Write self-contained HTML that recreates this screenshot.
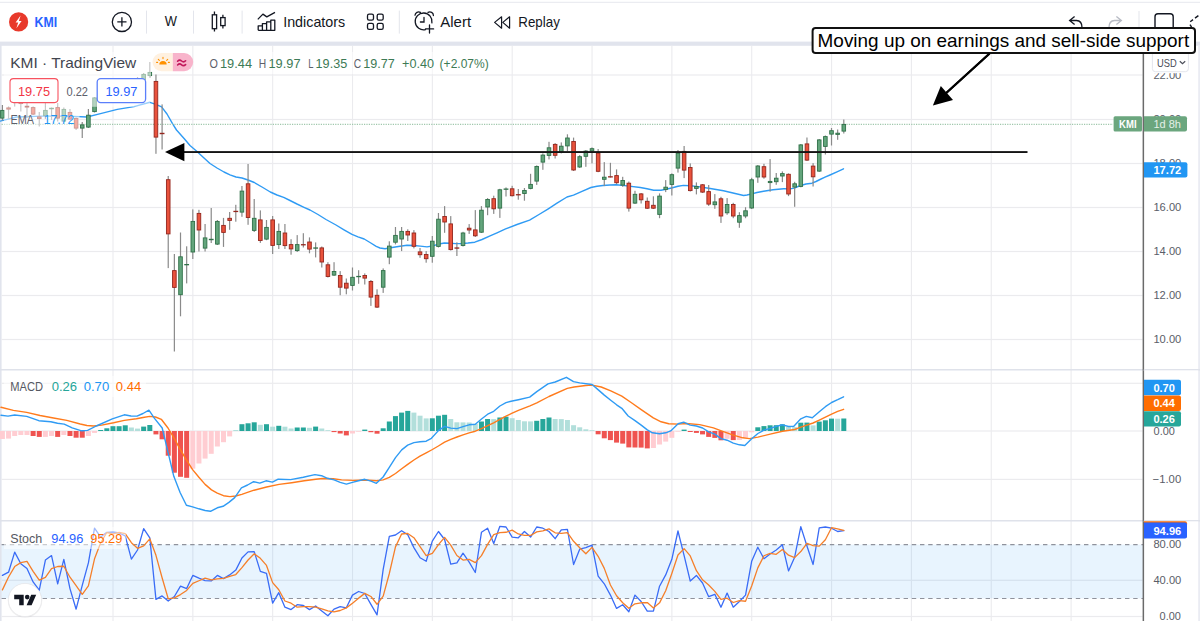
<!DOCTYPE html>
<html><head><meta charset="utf-8"><title>KMI chart</title>
<style>html,body{margin:0;padding:0;background:#fff;overflow:hidden}svg{display:block}text{font-family:"Liberation Sans",sans-serif}</style></head>
<body><svg width="1200" height="621" viewBox="0 0 1200 621">
<rect x="0" y="0" width="1200" height="621" fill="#fff"/>
<rect x="0" y="1.8" width="1200" height="1" fill="#e6e8ee"/>
<rect x="0" y="41.6" width="1200" height="4.2" fill="#e1e4ed"/>
<rect x="0" y="45" width="1.6" height="576" fill="#e1e4ed"/>
<rect x="1197.4" y="45" width="2.6" height="576" fill="#eaecf3"/>
<rect x="112.45" y="46" width="1.1" height="575" fill="#ebebee"/>
<rect x="192.29" y="46" width="1.1" height="575" fill="#ebebee"/>
<rect x="272.13" y="46" width="1.1" height="575" fill="#ebebee"/>
<rect x="351.97" y="46" width="1.1" height="575" fill="#ebebee"/>
<rect x="431.81" y="46" width="1.1" height="575" fill="#ebebee"/>
<rect x="511.65" y="46" width="1.1" height="575" fill="#ebebee"/>
<rect x="591.49" y="46" width="1.1" height="575" fill="#ebebee"/>
<rect x="671.33" y="46" width="1.1" height="575" fill="#ebebee"/>
<rect x="751.17" y="46" width="1.1" height="575" fill="#ebebee"/>
<rect x="831.01" y="46" width="1.1" height="575" fill="#ebebee"/>
<rect x="910.85" y="46" width="1.1" height="575" fill="#ebebee"/>
<rect x="990.69" y="46" width="1.1" height="575" fill="#ebebee"/>
<rect x="1070.53" y="46" width="1.1" height="575" fill="#ebebee"/>
<rect x="1.6" y="74.4" width="1141" height="1.2" fill="#ebebee"/>
<rect x="1.6" y="118.9" width="1141" height="1.2" fill="#ebebee"/>
<rect x="1.6" y="162.9" width="1141" height="1.2" fill="#ebebee"/>
<rect x="1.6" y="206.9" width="1141" height="1.2" fill="#ebebee"/>
<rect x="1.6" y="250.9" width="1141" height="1.2" fill="#ebebee"/>
<rect x="1.6" y="294.9" width="1141" height="1.2" fill="#ebebee"/>
<rect x="1.6" y="338.9" width="1141" height="1.2" fill="#ebebee"/>
<rect x="1.6" y="382.7" width="1141" height="1.2" fill="#ebebee"/>
<rect x="1.6" y="430.4" width="1141" height="1.2" fill="#ebebee"/>
<rect x="1.6" y="478.8" width="1141" height="1.2" fill="#ebebee"/>
<rect x="1.6" y="579.7" width="1141" height="1.2" fill="#ebebee"/>
<rect x="1.6" y="615.9" width="1141" height="1.2" fill="#ebebee"/>
<rect x="0" y="369" width="1200" height="1.3" fill="#dfe2ea"/>
<rect x="0" y="520" width="1200" height="1.3" fill="#dfe2ea"/>
<rect x="1.6" y="544.6" width="1141.5" height="53.8" fill="#2196f3" fill-opacity="0.1"/>
<path d="M1.6 544.6H1143 M1.6 598.4H1143" stroke="#8f929c" stroke-width="1.05" stroke-dasharray="4.4 3.8" fill="none"/>
<path d="M0 121.1 L16.7 117 L41.9 116.1 L67 116.1 L87 117 L100.5 113.6 L117.3 109.4 L134 106.6 L149.9 102.3 L155.8 104.4 L161.6 106.9 L167 114 L172.5 123.7 L176.5 130 L184.3 138.7 L190 145.5 L197 151.5 L204 158 L210 163.5 L217 168 L224 172 L230 174.8 L236 177 L242 178 L248 180 L254.3 182.5 L262 187 L270.3 192 L277 195 L283.7 197.4 L290 200.5 L297 204 L304 207.3 L310 210 L318 214.5 L326 219.5 L336 225 L344 229.8 L352 234.4 L358 236.8 L364.2 239 L370 242.5 L376.2 246.4 L380 248 L385 248.8 L392.2 247.5 L400 246.2 L407 245.3 L414 245.5 L420.3 246.1 L427 246.9 L433.7 245.7 L439 244 L444.4 243 L450 243.3 L456 243.6 L462 243.5 L468 243 L474.8 242.2 L482 239.5 L489.5 236.2 L497 232.8 L505.6 228.8 L517 224.5 L529.6 220.1 L539 214.5 L548.3 208.8 L557 203.2 L567 197 L573.5 195.2 L582 191.3 L590.9 187.5 L597 186.2 L602.9 185.5 L610 185 L616.3 184.8 L627 185.9 L640.3 187.5 L647 188.8 L653.7 190.3 L661 190.2 L666 189.3 L672.4 187.8 L678 186.3 L683.4 185.4 L690 185.8 L696.8 186.4 L710.2 188.5 L723.5 190.8 L733 193 L743.6 195.5 L747 195 L751.6 193.9 L757 192.5 L763.6 191.2 L773 189.8 L783.7 188.8 L790 188.9 L794.4 188.1 L798 186.5 L802.4 185 L806 184 L812 183.2 L816 181.5 L820 179.5 L825 177.2 L830 175 L837 171.8 L843.5 168.8" fill="none" stroke="#2f9bf4" stroke-width="1.4" stroke-linejoin="round" stroke-linecap="round" />
<path d="M1.6 124.3H1113" stroke="#9fc7ac" stroke-width="1.2" stroke-dasharray="1.2 1.2" fill="none"/>
<rect x="1.81" y="105" width="1.2" height="15.5" fill="#8a8a8a"/>
<rect x="0.61" y="110.4" width="3.6" height="7.7" fill="#63a57c" stroke="#2f7048" stroke-width="0.9"/>
<rect x="7.95" y="106.5" width="1.2" height="12.5" fill="#8a8a8a"/>
<rect x="6.75" y="107.9" width="3.6" height="1.2" fill="#e9523c" stroke="#94261d" stroke-width="0.9"/>
<rect x="14.09" y="92" width="1.2" height="14.5" fill="#8a8a8a"/>
<rect x="12.89" y="96.4" width="3.6" height="4.2" fill="#e9523c" stroke="#94261d" stroke-width="0.9"/>
<rect x="20.23" y="99" width="1.2" height="12.5" fill="#8a8a8a"/>
<rect x="19.03" y="101.4" width="3.6" height="2.2" fill="#e9523c" stroke="#94261d" stroke-width="0.9"/>
<rect x="26.38" y="103" width="1.2" height="15" fill="#8a8a8a"/>
<rect x="25.18" y="106.2" width="3.6" height="0.9" fill="#e9523c" stroke="#94261d" stroke-width="0.9"/>
<rect x="32.52" y="106.5" width="1.2" height="8.5" fill="#8a8a8a"/>
<rect x="31.32" y="107.6" width="3.6" height="6.5" fill="#e9523c" stroke="#94261d" stroke-width="0.9"/>
<rect x="38.66" y="112" width="1.2" height="14.5" fill="#8a8a8a"/>
<rect x="37.46" y="116.9" width="3.6" height="1.7" fill="#e9523c" stroke="#94261d" stroke-width="0.9"/>
<rect x="44.8" y="103" width="1.2" height="16" fill="#8a8a8a"/>
<rect x="43.6" y="110.4" width="3.6" height="5.2" fill="#63a57c" stroke="#2f7048" stroke-width="0.9"/>
<rect x="50.94" y="107.5" width="1.2" height="12.5" fill="#8a8a8a"/>
<rect x="49.14" y="107.8" width="4.8" height="1.4" fill="#2f7048"/>
<rect x="57.08" y="103" width="1.2" height="18.5" fill="#8a8a8a"/>
<rect x="55.88" y="107.6" width="3.6" height="10.5" fill="#e9523c" stroke="#94261d" stroke-width="0.9"/>
<rect x="63.23" y="107.5" width="1.2" height="14.5" fill="#8a8a8a"/>
<rect x="62.03" y="109.4" width="3.6" height="11.7" fill="#63a57c" stroke="#2f7048" stroke-width="0.9"/>
<rect x="69.37" y="109" width="1.2" height="11" fill="#8a8a8a"/>
<rect x="68.17" y="112.4" width="3.6" height="6.7" fill="#e9523c" stroke="#94261d" stroke-width="0.9"/>
<rect x="75.51" y="117.5" width="1.2" height="12.5" fill="#8a8a8a"/>
<rect x="74.31" y="118.4" width="3.6" height="9.7" fill="#e9523c" stroke="#94261d" stroke-width="0.9"/>
<rect x="81.65" y="122" width="1.2" height="16" fill="#8a8a8a"/>
<rect x="80.45" y="124.9" width="3.6" height="3.2" fill="#63a57c" stroke="#2f7048" stroke-width="0.9"/>
<rect x="87.79" y="109" width="1.2" height="19" fill="#8a8a8a"/>
<rect x="86.59" y="115.2" width="3.6" height="11.9" fill="#63a57c" stroke="#2f7048" stroke-width="0.9"/>
<rect x="93.93" y="97" width="1.2" height="15.5" fill="#8a8a8a"/>
<rect x="92.73" y="97.9" width="3.6" height="13.7" fill="#63a57c" stroke="#2f7048" stroke-width="0.9"/>
<rect x="100.07" y="91" width="1.2" height="9" fill="#8a8a8a"/>
<rect x="98.87" y="93.4" width="3.6" height="4.2" fill="#63a57c" stroke="#2f7048" stroke-width="0.9"/>
<rect x="106.22" y="90" width="1.2" height="8" fill="#8a8a8a"/>
<rect x="105.02" y="93.4" width="3.6" height="2.2" fill="#e9523c" stroke="#94261d" stroke-width="0.9"/>
<rect x="112.36" y="86" width="1.2" height="9" fill="#8a8a8a"/>
<rect x="111.16" y="88.4" width="3.6" height="5.2" fill="#63a57c" stroke="#2f7048" stroke-width="0.9"/>
<rect x="118.5" y="83" width="1.2" height="8" fill="#8a8a8a"/>
<rect x="117.3" y="85.4" width="3.6" height="3.2" fill="#63a57c" stroke="#2f7048" stroke-width="0.9"/>
<rect x="124.64" y="83" width="1.2" height="7" fill="#8a8a8a"/>
<rect x="123.44" y="85.4" width="3.6" height="2.2" fill="#e9523c" stroke="#94261d" stroke-width="0.9"/>
<rect x="130.78" y="79" width="1.2" height="9" fill="#8a8a8a"/>
<rect x="129.58" y="81.4" width="3.6" height="4.2" fill="#63a57c" stroke="#2f7048" stroke-width="0.9"/>
<rect x="136.92" y="77" width="1.2" height="7" fill="#8a8a8a"/>
<rect x="135.72" y="79.4" width="3.6" height="2.2" fill="#63a57c" stroke="#2f7048" stroke-width="0.9"/>
<rect x="143.06" y="73" width="1.2" height="8" fill="#8a8a8a"/>
<rect x="141.86" y="74.4" width="3.6" height="5.2" fill="#63a57c" stroke="#2f7048" stroke-width="0.9"/>
<rect x="149.21" y="62" width="1.2" height="15.8" fill="#8a8a8a"/>
<rect x="148.01" y="72.4" width="3.6" height="3.2" fill="#63a57c" stroke="#2f7048" stroke-width="0.9"/>
<rect x="155.35" y="74.5" width="1.2" height="79.3" fill="#8a8a8a"/>
<rect x="154.15" y="81.4" width="3.6" height="55.7" fill="#e9523c" stroke="#94261d" stroke-width="0.9"/>
<rect x="161.49" y="104.4" width="1.2" height="45.1" fill="#8a8a8a"/>
<rect x="159.69" y="132.8" width="4.8" height="1.4" fill="#94261d"/>
<rect x="167.63" y="176" width="1.2" height="92.1" fill="#8a8a8a"/>
<rect x="166.43" y="179.7" width="3.6" height="54.2" fill="#e9523c" stroke="#94261d" stroke-width="0.9"/>
<rect x="173.77" y="254" width="1.2" height="97.5" fill="#8a8a8a"/>
<rect x="172.57" y="270.6" width="3.6" height="16.8" fill="#e9523c" stroke="#94261d" stroke-width="0.9"/>
<rect x="179.91" y="232.5" width="1.2" height="83.8" fill="#8a8a8a"/>
<rect x="178.71" y="256.8" width="3.6" height="37.9" fill="#63a57c" stroke="#2f7048" stroke-width="0.9"/>
<rect x="186.06" y="246.3" width="1.2" height="37.1" fill="#8a8a8a"/>
<rect x="184.25" y="264" width="4.8" height="1.3" fill="#2f7048"/>
<rect x="192.2" y="209.4" width="1.2" height="49.6" fill="#8a8a8a"/>
<rect x="191" y="221.4" width="3.6" height="30.6" fill="#63a57c" stroke="#2f7048" stroke-width="0.9"/>
<rect x="198.34" y="209.8" width="1.2" height="41.7" fill="#8a8a8a"/>
<rect x="197.14" y="213.4" width="3.6" height="16.6" fill="#e9523c" stroke="#94261d" stroke-width="0.9"/>
<rect x="204.48" y="224" width="1.2" height="27.5" fill="#8a8a8a"/>
<rect x="203.28" y="237.9" width="3.6" height="10.2" fill="#63a57c" stroke="#2f7048" stroke-width="0.9"/>
<rect x="210.62" y="208" width="1.2" height="35" fill="#8a8a8a"/>
<rect x="208.82" y="238.8" width="4.8" height="1.4" fill="#2f7048"/>
<rect x="216.76" y="220" width="1.2" height="25" fill="#8a8a8a"/>
<rect x="215.56" y="221.4" width="3.6" height="22.7" fill="#63a57c" stroke="#2f7048" stroke-width="0.9"/>
<rect x="222.9" y="217.9" width="1.2" height="29" fill="#8a8a8a"/>
<rect x="221.7" y="225.4" width="3.6" height="7" fill="#e9523c" stroke="#94261d" stroke-width="0.9"/>
<rect x="229.05" y="212" width="1.2" height="17.8" fill="#8a8a8a"/>
<rect x="227.85" y="218.3" width="3.6" height="2.1" fill="#e9523c" stroke="#94261d" stroke-width="0.9"/>
<rect x="235.19" y="204.8" width="1.2" height="16.9" fill="#8a8a8a"/>
<rect x="233.39" y="210.8" width="4.8" height="1.3" fill="#94261d"/>
<rect x="241.33" y="186" width="1.2" height="30.8" fill="#8a8a8a"/>
<rect x="240.13" y="191.1" width="3.6" height="21" fill="#63a57c" stroke="#2f7048" stroke-width="0.9"/>
<rect x="247.47" y="164" width="1.2" height="60.8" fill="#8a8a8a"/>
<rect x="246.27" y="183.8" width="3.6" height="33.7" fill="#e9523c" stroke="#94261d" stroke-width="0.9"/>
<rect x="253.61" y="199" width="1.2" height="33" fill="#8a8a8a"/>
<rect x="252.41" y="218.3" width="3.6" height="12.1" fill="#63a57c" stroke="#2f7048" stroke-width="0.9"/>
<rect x="259.75" y="210.4" width="1.2" height="32.5" fill="#8a8a8a"/>
<rect x="258.55" y="219.9" width="3.6" height="20.6" fill="#e9523c" stroke="#94261d" stroke-width="0.9"/>
<rect x="265.89" y="220" width="1.2" height="20.2" fill="#8a8a8a"/>
<rect x="264.69" y="227.4" width="3.6" height="11.7" fill="#63a57c" stroke="#2f7048" stroke-width="0.9"/>
<rect x="272.04" y="216" width="1.2" height="38" fill="#8a8a8a"/>
<rect x="270.84" y="219.9" width="3.6" height="25.5" fill="#e9523c" stroke="#94261d" stroke-width="0.9"/>
<rect x="278.18" y="223.5" width="1.2" height="25.5" fill="#8a8a8a"/>
<rect x="276.98" y="231.4" width="3.6" height="13.2" fill="#63a57c" stroke="#2f7048" stroke-width="0.9"/>
<rect x="284.32" y="224" width="1.2" height="25" fill="#8a8a8a"/>
<rect x="283.12" y="233" width="3.6" height="12.6" fill="#e9523c" stroke="#94261d" stroke-width="0.9"/>
<rect x="290.46" y="239.2" width="1.2" height="15.5" fill="#8a8a8a"/>
<rect x="289.26" y="244.6" width="3.6" height="4.3" fill="#e9523c" stroke="#94261d" stroke-width="0.9"/>
<rect x="296.6" y="235.1" width="1.2" height="16.9" fill="#8a8a8a"/>
<rect x="295.4" y="244.6" width="3.6" height="6" fill="#63a57c" stroke="#2f7048" stroke-width="0.9"/>
<rect x="302.74" y="233.2" width="1.2" height="14.3" fill="#8a8a8a"/>
<rect x="300.94" y="244.1" width="4.8" height="1.3" fill="#94261d"/>
<rect x="308.88" y="237.4" width="1.2" height="15.9" fill="#8a8a8a"/>
<rect x="307.69" y="242" width="3.6" height="7.1" fill="#e9523c" stroke="#94261d" stroke-width="0.9"/>
<rect x="315.03" y="242.4" width="1.2" height="15" fill="#8a8a8a"/>
<rect x="313.23" y="247.4" width="4.8" height="1.3" fill="#2f7048"/>
<rect x="321.17" y="246.5" width="1.2" height="21" fill="#8a8a8a"/>
<rect x="319.97" y="247.9" width="3.6" height="14.1" fill="#e9523c" stroke="#94261d" stroke-width="0.9"/>
<rect x="327.31" y="262.2" width="1.2" height="15.3" fill="#8a8a8a"/>
<rect x="326.11" y="264.8" width="3.6" height="11.7" fill="#e9523c" stroke="#94261d" stroke-width="0.9"/>
<rect x="333.45" y="262.2" width="1.2" height="13.8" fill="#8a8a8a"/>
<rect x="332.25" y="271.5" width="3.6" height="3.6" fill="#63a57c" stroke="#2f7048" stroke-width="0.9"/>
<rect x="339.59" y="271.1" width="1.2" height="24.1" fill="#8a8a8a"/>
<rect x="338.39" y="275.5" width="3.6" height="11.7" fill="#e9523c" stroke="#94261d" stroke-width="0.9"/>
<rect x="345.73" y="278.5" width="1.2" height="15.8" fill="#8a8a8a"/>
<rect x="344.53" y="283.2" width="3.6" height="4.9" fill="#e9523c" stroke="#94261d" stroke-width="0.9"/>
<rect x="351.88" y="267.5" width="1.2" height="23" fill="#8a8a8a"/>
<rect x="350.68" y="277.3" width="3.6" height="8.1" fill="#63a57c" stroke="#2f7048" stroke-width="0.9"/>
<rect x="358.02" y="270.2" width="1.2" height="13.6" fill="#8a8a8a"/>
<rect x="356.22" y="275.9" width="4.8" height="1.3" fill="#2f7048"/>
<rect x="364.16" y="273.4" width="1.2" height="11.1" fill="#8a8a8a"/>
<rect x="362.96" y="275.5" width="3.6" height="2.6" fill="#e9523c" stroke="#94261d" stroke-width="0.9"/>
<rect x="370.3" y="280" width="1.2" height="25.9" fill="#8a8a8a"/>
<rect x="369.1" y="281.5" width="3.6" height="15.6" fill="#e9523c" stroke="#94261d" stroke-width="0.9"/>
<rect x="376.44" y="289.3" width="1.2" height="18.7" fill="#8a8a8a"/>
<rect x="375.24" y="295.3" width="3.6" height="11.8" fill="#e9523c" stroke="#94261d" stroke-width="0.9"/>
<rect x="382.58" y="268.4" width="1.2" height="24.5" fill="#8a8a8a"/>
<rect x="381.38" y="270.6" width="3.6" height="16.6" fill="#63a57c" stroke="#2f7048" stroke-width="0.9"/>
<rect x="388.72" y="241.3" width="1.2" height="22.9" fill="#8a8a8a"/>
<rect x="387.52" y="246.1" width="3.6" height="11" fill="#63a57c" stroke="#2f7048" stroke-width="0.9"/>
<rect x="394.87" y="227" width="1.2" height="17.4" fill="#8a8a8a"/>
<rect x="393.67" y="235.4" width="3.6" height="6.8" fill="#63a57c" stroke="#2f7048" stroke-width="0.9"/>
<rect x="401.01" y="227" width="1.2" height="24.1" fill="#8a8a8a"/>
<rect x="399.81" y="231.4" width="3.6" height="7.6" fill="#63a57c" stroke="#2f7048" stroke-width="0.9"/>
<rect x="407.15" y="229.3" width="1.2" height="11.7" fill="#8a8a8a"/>
<rect x="405.95" y="231.4" width="3.6" height="3.6" fill="#e9523c" stroke="#94261d" stroke-width="0.9"/>
<rect x="413.29" y="230.1" width="1.2" height="18.3" fill="#8a8a8a"/>
<rect x="412.09" y="233" width="3.6" height="13.3" fill="#e9523c" stroke="#94261d" stroke-width="0.9"/>
<rect x="419.43" y="248" width="1.2" height="9.8" fill="#8a8a8a"/>
<rect x="418.23" y="251.9" width="3.6" height="2.8" fill="#e9523c" stroke="#94261d" stroke-width="0.9"/>
<rect x="425.57" y="251.1" width="1.2" height="11.6" fill="#8a8a8a"/>
<rect x="424.37" y="254.5" width="3.6" height="4.2" fill="#e9523c" stroke="#94261d" stroke-width="0.9"/>
<rect x="431.71" y="236" width="1.2" height="26.7" fill="#8a8a8a"/>
<rect x="430.51" y="241.2" width="3.6" height="15.1" fill="#63a57c" stroke="#2f7048" stroke-width="0.9"/>
<rect x="437.86" y="213" width="1.2" height="34.5" fill="#8a8a8a"/>
<rect x="436.66" y="219.2" width="3.6" height="27.2" fill="#63a57c" stroke="#2f7048" stroke-width="0.9"/>
<rect x="444" y="206.1" width="1.2" height="26.7" fill="#8a8a8a"/>
<rect x="442.8" y="216.5" width="3.6" height="5.5" fill="#e9523c" stroke="#94261d" stroke-width="0.9"/>
<rect x="450.14" y="216.1" width="1.2" height="34.4" fill="#8a8a8a"/>
<rect x="448.94" y="223.9" width="3.6" height="25.7" fill="#e9523c" stroke="#94261d" stroke-width="0.9"/>
<rect x="456.28" y="242.3" width="1.2" height="13.7" fill="#8a8a8a"/>
<rect x="454.48" y="247.4" width="4.8" height="1.3" fill="#94261d"/>
<rect x="462.42" y="231.8" width="1.2" height="14.7" fill="#8a8a8a"/>
<rect x="461.22" y="233" width="3.6" height="12.5" fill="#63a57c" stroke="#2f7048" stroke-width="0.9"/>
<rect x="468.56" y="224.1" width="1.2" height="9.8" fill="#8a8a8a"/>
<rect x="467.36" y="228.2" width="3.6" height="1.8" fill="#e9523c" stroke="#94261d" stroke-width="0.9"/>
<rect x="474.71" y="210.1" width="1.2" height="26.9" fill="#8a8a8a"/>
<rect x="473.51" y="229.9" width="3.6" height="5.9" fill="#e9523c" stroke="#94261d" stroke-width="0.9"/>
<rect x="480.85" y="206.1" width="1.2" height="26.9" fill="#8a8a8a"/>
<rect x="479.65" y="210.2" width="3.6" height="22" fill="#63a57c" stroke="#2f7048" stroke-width="0.9"/>
<rect x="486.99" y="198.1" width="1.2" height="17.1" fill="#8a8a8a"/>
<rect x="485.79" y="199.5" width="3.6" height="7.5" fill="#63a57c" stroke="#2f7048" stroke-width="0.9"/>
<rect x="493.13" y="195.7" width="1.2" height="18.2" fill="#8a8a8a"/>
<rect x="491.93" y="198.7" width="3.6" height="10.1" fill="#e9523c" stroke="#94261d" stroke-width="0.9"/>
<rect x="499.27" y="188.8" width="1.2" height="29.1" fill="#8a8a8a"/>
<rect x="498.07" y="189.8" width="3.6" height="18.3" fill="#63a57c" stroke="#2f7048" stroke-width="0.9"/>
<rect x="505.41" y="187.4" width="1.2" height="9.1" fill="#8a8a8a"/>
<rect x="503.61" y="188.5" width="4.8" height="1.3" fill="#2f7048"/>
<rect x="511.55" y="185.8" width="1.2" height="10.7" fill="#8a8a8a"/>
<rect x="510.35" y="188.8" width="3.6" height="6.9" fill="#e9523c" stroke="#94261d" stroke-width="0.9"/>
<rect x="517.7" y="189" width="1.2" height="10.7" fill="#8a8a8a"/>
<rect x="515.9" y="194.1" width="4.8" height="1.3" fill="#94261d"/>
<rect x="523.84" y="188" width="1.2" height="12.7" fill="#8a8a8a"/>
<rect x="522.64" y="190.5" width="3.6" height="3" fill="#63a57c" stroke="#2f7048" stroke-width="0.9"/>
<rect x="529.98" y="173.8" width="1.2" height="15.5" fill="#8a8a8a"/>
<rect x="528.78" y="184.4" width="3.6" height="4" fill="#63a57c" stroke="#2f7048" stroke-width="0.9"/>
<rect x="536.12" y="165.4" width="1.2" height="19.5" fill="#8a8a8a"/>
<rect x="534.92" y="166.5" width="3.6" height="14.6" fill="#63a57c" stroke="#2f7048" stroke-width="0.9"/>
<rect x="542.26" y="153.4" width="1.2" height="16.4" fill="#8a8a8a"/>
<rect x="541.06" y="155.1" width="3.6" height="7" fill="#63a57c" stroke="#2f7048" stroke-width="0.9"/>
<rect x="548.4" y="141.8" width="1.2" height="17.6" fill="#8a8a8a"/>
<rect x="547.2" y="147.8" width="3.6" height="7.6" fill="#63a57c" stroke="#2f7048" stroke-width="0.9"/>
<rect x="554.54" y="143.1" width="1.2" height="15.4" fill="#8a8a8a"/>
<rect x="553.35" y="144.4" width="3.6" height="10.9" fill="#e9523c" stroke="#94261d" stroke-width="0.9"/>
<rect x="560.69" y="142.4" width="1.2" height="11" fill="#8a8a8a"/>
<rect x="559.49" y="146.2" width="3.6" height="5.4" fill="#63a57c" stroke="#2f7048" stroke-width="0.9"/>
<rect x="566.83" y="134.3" width="1.2" height="16.8" fill="#8a8a8a"/>
<rect x="565.63" y="138" width="3.6" height="7.9" fill="#63a57c" stroke="#2f7048" stroke-width="0.9"/>
<rect x="572.97" y="137.6" width="1.2" height="33.4" fill="#8a8a8a"/>
<rect x="571.77" y="141.5" width="3.6" height="28.5" fill="#e9523c" stroke="#94261d" stroke-width="0.9"/>
<rect x="579.11" y="155.1" width="1.2" height="12.9" fill="#8a8a8a"/>
<rect x="577.91" y="156.7" width="3.6" height="10.3" fill="#63a57c" stroke="#2f7048" stroke-width="0.9"/>
<rect x="585.25" y="150" width="1.2" height="16.8" fill="#8a8a8a"/>
<rect x="584.05" y="151.1" width="3.6" height="5.2" fill="#63a57c" stroke="#2f7048" stroke-width="0.9"/>
<rect x="591.39" y="147.4" width="1.2" height="16" fill="#8a8a8a"/>
<rect x="590.19" y="148.7" width="3.6" height="2.3" fill="#63a57c" stroke="#2f7048" stroke-width="0.9"/>
<rect x="597.54" y="149" width="1.2" height="23.2" fill="#8a8a8a"/>
<rect x="596.34" y="153.1" width="3.6" height="18.2" fill="#e9523c" stroke="#94261d" stroke-width="0.9"/>
<rect x="603.68" y="162.1" width="1.2" height="24" fill="#8a8a8a"/>
<rect x="602.48" y="177.2" width="3.6" height="2.1" fill="#63a57c" stroke="#2f7048" stroke-width="0.9"/>
<rect x="609.82" y="162.8" width="1.2" height="14.7" fill="#8a8a8a"/>
<rect x="608.02" y="176.2" width="4.8" height="1.3" fill="#94261d"/>
<rect x="615.96" y="169.4" width="1.2" height="14.7" fill="#8a8a8a"/>
<rect x="614.76" y="175.6" width="3.6" height="7.1" fill="#e9523c" stroke="#94261d" stroke-width="0.9"/>
<rect x="622.1" y="176.8" width="1.2" height="10" fill="#8a8a8a"/>
<rect x="620.9" y="180.5" width="3.6" height="4.6" fill="#63a57c" stroke="#2f7048" stroke-width="0.9"/>
<rect x="628.24" y="181.5" width="1.2" height="30.1" fill="#8a8a8a"/>
<rect x="627.04" y="183.2" width="3.6" height="24.9" fill="#e9523c" stroke="#94261d" stroke-width="0.9"/>
<rect x="634.38" y="190.8" width="1.2" height="13.2" fill="#8a8a8a"/>
<rect x="633.18" y="194.3" width="3.6" height="8.8" fill="#63a57c" stroke="#2f7048" stroke-width="0.9"/>
<rect x="640.53" y="193" width="1.2" height="10.5" fill="#8a8a8a"/>
<rect x="639.33" y="193.9" width="3.6" height="5.9" fill="#e9523c" stroke="#94261d" stroke-width="0.9"/>
<rect x="646.67" y="197.5" width="1.2" height="11.5" fill="#8a8a8a"/>
<rect x="645.47" y="201.3" width="3.6" height="6.9" fill="#e9523c" stroke="#94261d" stroke-width="0.9"/>
<rect x="652.81" y="196.3" width="1.2" height="12.7" fill="#8a8a8a"/>
<rect x="651.61" y="205.3" width="3.6" height="2.9" fill="#e9523c" stroke="#94261d" stroke-width="0.9"/>
<rect x="658.95" y="193.4" width="1.2" height="24.8" fill="#8a8a8a"/>
<rect x="657.75" y="196.1" width="3.6" height="18.3" fill="#63a57c" stroke="#2f7048" stroke-width="0.9"/>
<rect x="665.09" y="180.1" width="1.2" height="12" fill="#8a8a8a"/>
<rect x="663.89" y="187.2" width="3.6" height="2.2" fill="#63a57c" stroke="#2f7048" stroke-width="0.9"/>
<rect x="671.23" y="173.4" width="1.2" height="22.1" fill="#8a8a8a"/>
<rect x="670.03" y="174.7" width="3.6" height="9.7" fill="#63a57c" stroke="#2f7048" stroke-width="0.9"/>
<rect x="677.37" y="150" width="1.2" height="22.6" fill="#8a8a8a"/>
<rect x="676.17" y="153.2" width="3.6" height="14.9" fill="#63a57c" stroke="#2f7048" stroke-width="0.9"/>
<rect x="683.52" y="146" width="1.2" height="32.1" fill="#8a8a8a"/>
<rect x="682.32" y="151.4" width="3.6" height="18.7" fill="#e9523c" stroke="#94261d" stroke-width="0.9"/>
<rect x="689.66" y="163.4" width="1.2" height="28.1" fill="#8a8a8a"/>
<rect x="688.46" y="167.5" width="3.6" height="23.1" fill="#e9523c" stroke="#94261d" stroke-width="0.9"/>
<rect x="695.8" y="182.4" width="1.2" height="12" fill="#8a8a8a"/>
<rect x="694.6" y="186.5" width="3.6" height="1.9" fill="#63a57c" stroke="#2f7048" stroke-width="0.9"/>
<rect x="701.94" y="184" width="1.2" height="9" fill="#8a8a8a"/>
<rect x="700.74" y="184.8" width="3.6" height="7.3" fill="#e9523c" stroke="#94261d" stroke-width="0.9"/>
<rect x="708.08" y="185" width="1.2" height="20.9" fill="#8a8a8a"/>
<rect x="706.88" y="191.6" width="3.6" height="12.5" fill="#e9523c" stroke="#94261d" stroke-width="0.9"/>
<rect x="714.22" y="194.1" width="1.2" height="14.7" fill="#8a8a8a"/>
<rect x="713.02" y="201.9" width="3.6" height="2.8" fill="#63a57c" stroke="#2f7048" stroke-width="0.9"/>
<rect x="720.37" y="196.8" width="1.2" height="26.1" fill="#8a8a8a"/>
<rect x="719.17" y="198.8" width="3.6" height="17.2" fill="#e9523c" stroke="#94261d" stroke-width="0.9"/>
<rect x="726.51" y="198.1" width="1.2" height="16.7" fill="#8a8a8a"/>
<rect x="725.31" y="204.5" width="3.6" height="8.3" fill="#63a57c" stroke="#2f7048" stroke-width="0.9"/>
<rect x="732.65" y="202.8" width="1.2" height="15.4" fill="#8a8a8a"/>
<rect x="731.45" y="204.5" width="3.6" height="11.5" fill="#e9523c" stroke="#94261d" stroke-width="0.9"/>
<rect x="738.79" y="212.2" width="1.2" height="15.6" fill="#8a8a8a"/>
<rect x="737.59" y="215.6" width="3.6" height="6.6" fill="#63a57c" stroke="#2f7048" stroke-width="0.9"/>
<rect x="744.93" y="207.2" width="1.2" height="11" fill="#8a8a8a"/>
<rect x="743.73" y="210.8" width="3.6" height="5.2" fill="#63a57c" stroke="#2f7048" stroke-width="0.9"/>
<rect x="751.07" y="177.8" width="1.2" height="31.2" fill="#8a8a8a"/>
<rect x="749.87" y="179.8" width="3.6" height="28.2" fill="#63a57c" stroke="#2f7048" stroke-width="0.9"/>
<rect x="757.21" y="165" width="1.2" height="17.8" fill="#8a8a8a"/>
<rect x="756.01" y="166" width="3.6" height="11" fill="#63a57c" stroke="#2f7048" stroke-width="0.9"/>
<rect x="763.36" y="163.8" width="1.2" height="14.9" fill="#8a8a8a"/>
<rect x="762.16" y="166.7" width="3.6" height="10.3" fill="#e9523c" stroke="#94261d" stroke-width="0.9"/>
<rect x="769.5" y="159.1" width="1.2" height="32.6" fill="#8a8a8a"/>
<rect x="768.3" y="181.4" width="3.6" height="1.2" fill="#63a57c" stroke="#2f7048" stroke-width="0.9"/>
<rect x="775.64" y="173" width="1.2" height="11.8" fill="#8a8a8a"/>
<rect x="774.44" y="178.2" width="3.6" height="3.5" fill="#63a57c" stroke="#2f7048" stroke-width="0.9"/>
<rect x="781.78" y="171.4" width="1.2" height="10.7" fill="#8a8a8a"/>
<rect x="780.58" y="173.6" width="3.6" height="2.4" fill="#63a57c" stroke="#2f7048" stroke-width="0.9"/>
<rect x="787.92" y="173.4" width="1.2" height="22.7" fill="#8a8a8a"/>
<rect x="786.72" y="174.3" width="3.6" height="19.7" fill="#e9523c" stroke="#94261d" stroke-width="0.9"/>
<rect x="794.06" y="181.8" width="1.2" height="25" fill="#8a8a8a"/>
<rect x="792.86" y="183.8" width="3.6" height="3.3" fill="#63a57c" stroke="#2f7048" stroke-width="0.9"/>
<rect x="800.2" y="144" width="1.2" height="43.3" fill="#8a8a8a"/>
<rect x="799" y="144.9" width="3.6" height="41.5" fill="#63a57c" stroke="#2f7048" stroke-width="0.9"/>
<rect x="806.35" y="137.5" width="1.2" height="23.5" fill="#8a8a8a"/>
<rect x="805.15" y="143.9" width="3.6" height="16.2" fill="#e9523c" stroke="#94261d" stroke-width="0.9"/>
<rect x="812.49" y="163.1" width="1.2" height="23.4" fill="#8a8a8a"/>
<rect x="811.29" y="166.1" width="3.6" height="10.7" fill="#e9523c" stroke="#94261d" stroke-width="0.9"/>
<rect x="818.63" y="139" width="1.2" height="33" fill="#8a8a8a"/>
<rect x="817.43" y="139.9" width="3.6" height="31.2" fill="#63a57c" stroke="#2f7048" stroke-width="0.9"/>
<rect x="824.77" y="135.5" width="1.2" height="19" fill="#8a8a8a"/>
<rect x="823.57" y="136.6" width="3.6" height="9.8" fill="#63a57c" stroke="#2f7048" stroke-width="0.9"/>
<rect x="830.91" y="128" width="1.2" height="17.5" fill="#8a8a8a"/>
<rect x="829.71" y="130.7" width="3.6" height="3.4" fill="#63a57c" stroke="#2f7048" stroke-width="0.9"/>
<rect x="837.05" y="129.5" width="1.2" height="10.3" fill="#8a8a8a"/>
<rect x="835.85" y="133.2" width="3.6" height="1.2" fill="#63a57c" stroke="#2f7048" stroke-width="0.9"/>
<rect x="843.2" y="119.5" width="1.2" height="14" fill="#8a8a8a"/>
<rect x="842" y="124.4" width="3.6" height="6.7" fill="#63a57c" stroke="#2f7048" stroke-width="0.9"/>
<rect x="183" y="151.1" width="844.5" height="1.9" fill="#141414"/>
<path d="M165 152.1 L184.4 143 L184.4 161.3Z" fill="#000"/>
<path d="M989.6 53.5 L944 95" stroke="#000" stroke-width="2" fill="none"/>
<path d="M932.9 105.6 L940.8 86.1 L953 100Z" fill="#000"/>
<rect x="-0.09" y="431" width="5" height="8" fill="#ffcdd2"/>
<rect x="6.05" y="431" width="5" height="7.6" fill="#ffcdd2"/>
<rect x="12.19" y="431" width="5" height="5" fill="#ffcdd2"/>
<rect x="18.33" y="431" width="5" height="4" fill="#ffcdd2"/>
<rect x="24.48" y="431" width="5" height="4" fill="#ffcdd2"/>
<rect x="30.62" y="431" width="5" height="5" fill="#ef5350"/>
<rect x="36.76" y="431" width="5" height="5.9" fill="#ef5350"/>
<rect x="42.9" y="431" width="5" height="5.9" fill="#ffcdd2"/>
<rect x="49.04" y="431" width="5" height="5" fill="#ffcdd2"/>
<rect x="55.18" y="431" width="5" height="5.9" fill="#ef5350"/>
<rect x="61.33" y="431" width="5" height="4" fill="#ffcdd2"/>
<rect x="67.47" y="431" width="5" height="5" fill="#ef5350"/>
<rect x="73.61" y="431" width="5" height="6.7" fill="#ef5350"/>
<rect x="79.75" y="431" width="5" height="6.7" fill="#ef5350"/>
<rect x="85.89" y="431" width="5" height="5" fill="#ffcdd2"/>
<rect x="92.03" y="431" width="5" height="1.9" fill="#ffcdd2"/>
<rect x="98.17" y="430" width="5" height="1" fill="#26a69a"/>
<rect x="104.32" y="428.3" width="5" height="2.7" fill="#26a69a"/>
<rect x="110.46" y="426.2" width="5" height="4.8" fill="#26a69a"/>
<rect x="116.6" y="426.2" width="5" height="4.8" fill="#26a69a"/>
<rect x="122.74" y="425.3" width="5" height="5.7" fill="#26a69a"/>
<rect x="128.88" y="427.5" width="5" height="3.5" fill="#b2dfdb"/>
<rect x="135.02" y="428.6" width="5" height="2.4" fill="#b2dfdb"/>
<rect x="141.16" y="426.6" width="5" height="4.4" fill="#26a69a"/>
<rect x="147.31" y="425" width="5" height="6" fill="#26a69a"/>
<rect x="153.45" y="431" width="5" height="3.4" fill="#ef5350"/>
<rect x="159.59" y="431" width="5" height="8.3" fill="#ef5350"/>
<rect x="165.73" y="431" width="5" height="24.7" fill="#ef5350"/>
<rect x="171.87" y="431" width="5" height="41.7" fill="#ef5350"/>
<rect x="178.01" y="431" width="5" height="45.8" fill="#ef5350"/>
<rect x="184.16" y="431" width="5" height="46.8" fill="#ef5350"/>
<rect x="190.3" y="431" width="5" height="37.7" fill="#ffcdd2"/>
<rect x="196.44" y="431" width="5" height="32.5" fill="#ffcdd2"/>
<rect x="202.58" y="431" width="5" height="27.6" fill="#ffcdd2"/>
<rect x="208.72" y="431" width="5" height="22.8" fill="#ffcdd2"/>
<rect x="214.86" y="431" width="5" height="15.5" fill="#ffcdd2"/>
<rect x="221" y="431" width="5" height="11.2" fill="#ffcdd2"/>
<rect x="227.15" y="431" width="5" height="5.4" fill="#ffcdd2"/>
<rect x="233.29" y="430" width="5" height="1" fill="#b2dfdb"/>
<rect x="239.43" y="424.2" width="5" height="6.8" fill="#26a69a"/>
<rect x="245.57" y="423.3" width="5" height="7.7" fill="#26a69a"/>
<rect x="251.71" y="422.3" width="5" height="8.7" fill="#26a69a"/>
<rect x="257.85" y="424.8" width="5" height="6.2" fill="#b2dfdb"/>
<rect x="263.99" y="424.2" width="5" height="6.8" fill="#26a69a"/>
<rect x="270.14" y="426.7" width="5" height="4.3" fill="#b2dfdb"/>
<rect x="276.28" y="425.8" width="5" height="5.2" fill="#26a69a"/>
<rect x="282.42" y="426.7" width="5" height="4.3" fill="#b2dfdb"/>
<rect x="288.56" y="428.5" width="5" height="2.5" fill="#b2dfdb"/>
<rect x="294.7" y="427.5" width="5" height="3.5" fill="#26a69a"/>
<rect x="300.84" y="427.5" width="5" height="3.5" fill="#26a69a"/>
<rect x="306.99" y="427.8" width="5" height="3.2" fill="#b2dfdb"/>
<rect x="313.13" y="426.6" width="5" height="4.4" fill="#26a69a"/>
<rect x="319.27" y="428.5" width="5" height="2.5" fill="#b2dfdb"/>
<rect x="325.41" y="430.2" width="5" height="0.8" fill="#b2dfdb"/>
<rect x="331.55" y="431" width="5" height="1.1" fill="#ef5350"/>
<rect x="337.69" y="431" width="5" height="2.5" fill="#ef5350"/>
<rect x="343.83" y="431" width="5" height="4.4" fill="#ef5350"/>
<rect x="349.98" y="431" width="5" height="2.5" fill="#ffcdd2"/>
<rect x="356.12" y="431" width="5" height="0.7" fill="#ffcdd2"/>
<rect x="362.26" y="429.6" width="5" height="1.4" fill="#26a69a"/>
<rect x="368.4" y="431" width="5" height="1.2" fill="#ef5350"/>
<rect x="374.54" y="431" width="5" height="2.7" fill="#ef5350"/>
<rect x="380.68" y="428.3" width="5" height="2.7" fill="#26a69a"/>
<rect x="386.82" y="421.5" width="5" height="9.5" fill="#26a69a"/>
<rect x="392.97" y="416.1" width="5" height="14.9" fill="#26a69a"/>
<rect x="399.11" y="412.6" width="5" height="18.4" fill="#26a69a"/>
<rect x="405.25" y="410.9" width="5" height="20.1" fill="#26a69a"/>
<rect x="411.39" y="412.6" width="5" height="18.4" fill="#b2dfdb"/>
<rect x="417.53" y="415.7" width="5" height="15.3" fill="#b2dfdb"/>
<rect x="423.67" y="418.4" width="5" height="12.6" fill="#b2dfdb"/>
<rect x="429.81" y="418.3" width="5" height="12.7" fill="#26a69a"/>
<rect x="435.96" y="415.7" width="5" height="15.3" fill="#26a69a"/>
<rect x="442.1" y="414.8" width="5" height="16.2" fill="#26a69a"/>
<rect x="448.24" y="419" width="5" height="12" fill="#b2dfdb"/>
<rect x="454.38" y="422.3" width="5" height="8.7" fill="#b2dfdb"/>
<rect x="460.52" y="422.4" width="5" height="8.6" fill="#b2dfdb"/>
<rect x="466.66" y="422.5" width="5" height="8.5" fill="#b2dfdb"/>
<rect x="472.81" y="423.9" width="5" height="7.1" fill="#b2dfdb"/>
<rect x="478.95" y="421.5" width="5" height="9.5" fill="#26a69a"/>
<rect x="485.09" y="419" width="5" height="12" fill="#26a69a"/>
<rect x="491.23" y="419.1" width="5" height="11.9" fill="#b2dfdb"/>
<rect x="497.37" y="417.5" width="5" height="13.5" fill="#26a69a"/>
<rect x="503.51" y="416.7" width="5" height="14.3" fill="#26a69a"/>
<rect x="509.65" y="418.2" width="5" height="12.8" fill="#b2dfdb"/>
<rect x="515.8" y="420" width="5" height="11" fill="#b2dfdb"/>
<rect x="521.94" y="421.3" width="5" height="9.7" fill="#b2dfdb"/>
<rect x="528.08" y="421.4" width="5" height="9.6" fill="#b2dfdb"/>
<rect x="534.22" y="420.8" width="5" height="10.2" fill="#26a69a"/>
<rect x="540.36" y="419" width="5" height="12" fill="#26a69a"/>
<rect x="546.5" y="417.5" width="5" height="13.5" fill="#26a69a"/>
<rect x="552.64" y="419" width="5" height="12" fill="#b2dfdb"/>
<rect x="558.79" y="419.1" width="5" height="11.9" fill="#b2dfdb"/>
<rect x="564.93" y="420" width="5" height="11" fill="#b2dfdb"/>
<rect x="571.07" y="425.2" width="5" height="5.8" fill="#b2dfdb"/>
<rect x="577.21" y="427.3" width="5" height="3.7" fill="#b2dfdb"/>
<rect x="583.35" y="429.3" width="5" height="1.7" fill="#b2dfdb"/>
<rect x="589.49" y="430.2" width="5" height="0.8" fill="#b2dfdb"/>
<rect x="595.64" y="431" width="5" height="3.3" fill="#ef5350"/>
<rect x="601.78" y="431" width="5" height="7.3" fill="#ef5350"/>
<rect x="607.92" y="431" width="5" height="9.1" fill="#ef5350"/>
<rect x="614.06" y="431" width="5" height="11.6" fill="#ef5350"/>
<rect x="620.2" y="431" width="5" height="12.6" fill="#ef5350"/>
<rect x="626.34" y="431" width="5" height="16.4" fill="#ef5350"/>
<rect x="632.48" y="431" width="5" height="16.5" fill="#ef5350"/>
<rect x="638.63" y="431" width="5" height="16.6" fill="#ef5350"/>
<rect x="644.77" y="431" width="5" height="17.4" fill="#ef5350"/>
<rect x="650.91" y="431" width="5" height="17" fill="#ffcdd2"/>
<rect x="657.05" y="431" width="5" height="13.5" fill="#ffcdd2"/>
<rect x="663.19" y="431" width="5" height="10.6" fill="#ffcdd2"/>
<rect x="669.33" y="431" width="5" height="6.8" fill="#ffcdd2"/>
<rect x="675.47" y="431" width="5" height="0.7" fill="#ffcdd2"/>
<rect x="681.62" y="429.6" width="5" height="1.4" fill="#26a69a"/>
<rect x="687.76" y="431" width="5" height="1" fill="#ef5350"/>
<rect x="693.9" y="431" width="5" height="1.9" fill="#ef5350"/>
<rect x="700.04" y="431" width="5" height="3.4" fill="#ef5350"/>
<rect x="706.18" y="431" width="5" height="5.9" fill="#ef5350"/>
<rect x="712.32" y="431" width="5" height="6.9" fill="#ef5350"/>
<rect x="718.47" y="431" width="5" height="9.3" fill="#ef5350"/>
<rect x="724.61" y="431" width="5" height="7.8" fill="#ffcdd2"/>
<rect x="730.75" y="431" width="5" height="9.1" fill="#ef5350"/>
<rect x="736.89" y="431" width="5" height="9" fill="#ffcdd2"/>
<rect x="743.03" y="431" width="5" height="6.7" fill="#ffcdd2"/>
<rect x="749.17" y="431" width="5" height="1.3" fill="#ffcdd2"/>
<rect x="755.31" y="427.3" width="5" height="3.7" fill="#26a69a"/>
<rect x="761.46" y="426.1" width="5" height="4.9" fill="#26a69a"/>
<rect x="767.6" y="425.3" width="5" height="5.7" fill="#26a69a"/>
<rect x="773.74" y="425.2" width="5" height="5.8" fill="#26a69a"/>
<rect x="779.88" y="424.3" width="5" height="6.7" fill="#26a69a"/>
<rect x="786.02" y="427" width="5" height="4" fill="#b2dfdb"/>
<rect x="792.16" y="427.1" width="5" height="3.9" fill="#b2dfdb"/>
<rect x="798.3" y="422.7" width="5" height="8.3" fill="#26a69a"/>
<rect x="804.45" y="422.6" width="5" height="8.4" fill="#26a69a"/>
<rect x="810.59" y="425.4" width="5" height="5.6" fill="#b2dfdb"/>
<rect x="816.73" y="421.6" width="5" height="9.4" fill="#26a69a"/>
<rect x="822.87" y="420.3" width="5" height="10.7" fill="#26a69a"/>
<rect x="829.01" y="418.6" width="5" height="12.4" fill="#26a69a"/>
<rect x="835.15" y="418.7" width="5" height="12.3" fill="#b2dfdb"/>
<rect x="841.3" y="418.5" width="5" height="12.5" fill="#26a69a"/>
<path d="M1 407.3 L13.4 410.4 L26.7 412.4 L40.1 415.5 L53.5 418 L66.8 420.4 L80.2 424 L86.9 425.5 L93.6 426 L101.6 425.1 L113.6 422.8 L124.3 420.4 L136.4 418.8 L143 417.5 L149.7 416.4 L155.5 417 L161.3 419.3 L168 428 L173.8 437.7 L180.2 449.3 L186.4 459.9 L192.6 469.6 L198.9 477.3 L205.1 484.4 L211.5 489.9 L217.3 493.1 L223.5 495.7 L229.9 496.6 L235.7 496 L241.8 494.3 L248.2 492.2 L254 490.2 L266.6 487 L279.1 484.4 L291.7 482.7 L304.3 480.8 L315.8 479.2 L322.6 478.5 L333.2 478.8 L341.6 479.9 L353.2 480.4 L364.8 480 L376.4 480.8 L383.1 479.9 L389.3 477.3 L395.5 473.5 L401.7 468.8 L407.7 464.4 L413.9 460 L420 456.1 L426.2 452.8 L432.4 449.5 L438.4 446 L444.6 442.2 L450.8 439.3 L457 437 L463 434.8 L469.1 432.9 L475.3 431.2 L481.5 428.6 L487.7 425.7 L493.7 422.9 L499.9 419.4 L506 416.1 L512.2 413.2 L518.4 410.3 L530 405.8 L536.8 402.9 L549 396.5 L567.3 388.4 L574.1 387 L585.7 385.5 L592.1 385.1 L601.2 387 L610.8 390.9 L621.8 396.1 L631.1 402.5 L641.2 409.6 L653.3 417.9 L661.1 421.8 L668.8 423.7 L678.1 424.1 L686.2 423.5 L699.7 424.6 L713.4 427.9 L721.4 430.8 L733.3 435.1 L742.8 437.8 L749.5 438.6 L757.9 437.1 L770.2 434.1 L782.5 431.2 L794.7 429.5 L800.8 427.1 L813.1 423 L819.3 420.1 L825.4 417.2 L831.6 414.1 L837.7 411.4 L843.6 409.3" fill="none" stroke="#ff7b1c" stroke-width="1.4" stroke-linejoin="round" stroke-linecap="round" />
<path d="M1 415.3 L8 416.1 L14.7 415 L26.7 416.4 L38.8 420.7 L50.8 421.7 L57.5 423.3 L64.2 424.1 L72.2 427.8 L81.6 430.8 L87.6 430.4 L96.3 426 L112.3 418.8 L124.3 414.8 L131 416 L137 416.1 L143 413.5 L148.9 410.2 L154.5 418.4 L162.2 428 L168 452.2 L173.8 476.3 L180.2 492.8 L186.4 505.3 L192.6 506.9 L198.9 508.8 L205.1 510.5 L210.5 511.3 L217.3 507.8 L223.1 506.3 L228.9 502.4 L234.7 497.6 L241.4 487.9 L247.6 485 L253.6 481.7 L259.8 483.1 L266 480.8 L272.4 482.1 L278.2 479.2 L290.7 479.6 L303.3 477.3 L314.9 474.6 L321.6 475.7 L327.4 478.3 L334.1 479.9 L340.2 482.4 L346.4 484.1 L352.4 482.4 L358.6 480.8 L364.8 479.3 L371 481.2 L376.4 483.3 L383.1 477 L389.3 467.3 L395.5 457.6 L401.7 449.9 L407.7 445.1 L413.9 442.6 L420 441.8 L426.2 441.2 L431.4 438.3 L438.4 430.6 L444.6 426.3 L450.8 428.1 L457 428.6 L463 426.7 L469.1 424.8 L475.3 424.2 L481.5 419 L487.7 414.2 L493.7 411.3 L499.9 406 L506 402.6 L512.2 401 L518.4 399.7 L529.7 397.1 L536.8 391.6 L548 383.9 L555.2 382 L566.4 377.3 L573.5 381.6 L579.7 382.9 L592.1 384.5 L598.3 389.9 L604.3 395.1 L610.4 400 L616.6 404.8 L621.8 408.3 L628.2 416 L635 420.6 L641.2 425.1 L647.3 429.9 L652.4 432.8 L659.5 433.8 L665.7 432.8 L670.7 430.9 L678.1 423.7 L683.7 422.2 L690.2 425.1 L696.4 426 L702.6 428 L708.7 431.9 L714.8 434.1 L721 438.6 L727.1 440.2 L733.3 443.1 L739.4 444.8 L744.8 445.5 L751.7 438.8 L757.9 433.5 L764 430.1 L770.2 428.4 L776.3 426.4 L782.5 424.8 L788.6 426.5 L793.6 426.4 L800.8 418.8 L806.3 416.4 L812.3 417.8 L819.3 411.8 L825.4 406.7 L831.6 402.5 L837.7 399.7 L843.6 396.8" fill="none" stroke="#2f9bf4" stroke-width="1.4" stroke-linejoin="round" stroke-linecap="round" />
<path d="M2.41 575.4 L8.55 572.2 L14.69 552.1 L20.83 563.7 L26.98 568.5 L33.12 581.9 L39.26 590.2 L45.4 560.1 L51.54 555.6 L57.68 583.8 L63.83 559.3 L69.97 588.6 L76.11 609.2 L82.25 585.4 L88.39 562.9 L94.53 528.2 L100.67 537.1 L106.82 532.3 L112.96 532 L119.1 533 L125.24 535.8 L131.38 559.2 L137.52 550 L143.66 528.6 L149.81 537.9 L155.95 599.4 L162.09 595.9 L168.23 601 L174.37 596.5 L180.51 586.2 L186.66 588.6 L192.8 575.4 L198.94 578.2 L205.08 580.6 L211.22 580.9 L217.36 575.4 L223.5 578.6 L229.65 574.9 L235.79 570.1 L241.93 558 L248.07 551.9 L254.21 551.6 L260.35 571.4 L266.49 573.3 L272.64 603.1 L278.78 592.7 L284.92 607.2 L291.06 609.6 L297.2 604.7 L303.34 605.5 L309.49 609.6 L315.63 606 L321.77 610.9 L327.91 615.7 L334.05 609.1 L340.19 606.7 L346.33 607.8 L352.48 595.1 L358.62 591.5 L364.76 593.5 L370.9 604.4 L377.04 614.9 L383.18 569.3 L389.32 536.3 L395.47 535 L401.61 530.7 L407.75 534.7 L413.89 547.6 L420.03 557.7 L426.17 561.3 L432.31 541.1 L438.46 531.5 L444.6 539.5 L450.74 564.2 L456.88 562.9 L463.02 553.2 L469.16 562.1 L475.31 572.5 L481.45 532.3 L487.59 528.2 L493.73 543.5 L499.87 526.3 L506.01 527 L512.15 537.1 L518.3 537.8 L524.44 531.5 L530.58 537.1 L536.72 527 L542.86 528.2 L549 531.5 L555.14 538.7 L561.29 529.9 L567.43 529.4 L573.57 564.5 L579.71 549.2 L585.85 547.6 L591.99 545.2 L598.14 576.1 L604.28 583.8 L610.42 595.1 L616.56 608.4 L622.7 604.7 L628.84 611.7 L634.98 595.1 L641.13 601.5 L647.27 611.2 L653.41 611.2 L659.55 586.2 L665.69 574.9 L671.83 559.3 L677.97 531 L684.12 555.6 L690.26 581.1 L696.4 575.4 L702.54 583 L708.68 596.7 L714.82 594.3 L720.97 607.2 L727.11 593.1 L733.25 607.2 L739.39 601.5 L745.53 595.1 L751.67 561.3 L757.81 547.2 L763.96 558.8 L770.1 554 L776.24 550 L782.38 544.8 L788.52 570.9 L794.66 557.2 L800.8 526.6 L806.95 546 L813.09 564.5 L819.23 527.8 L825.37 527 L831.51 528.2 L837.65 531.5 L843.8 530.6" fill="none" stroke="#3a6cf6" stroke-width="1.3" stroke-linejoin="round" stroke-linecap="round" />
<path d="M2.41 589.9 L8.55 577 L14.69 566.57 L20.83 562.67 L26.98 561.43 L33.12 571.37 L39.26 580.2 L45.4 577.4 L51.54 568.63 L57.68 566.5 L63.83 566.23 L69.97 577.23 L76.11 585.7 L82.25 594.4 L88.39 585.83 L94.53 558.83 L100.67 542.73 L106.82 532.53 L112.96 533.8 L119.1 532.43 L125.24 533.6 L131.38 542.67 L137.52 548.33 L143.66 545.93 L149.81 538.83 L155.95 555.3 L162.09 577.73 L168.23 598.77 L174.37 597.8 L180.51 594.57 L186.66 590.43 L192.8 583.4 L198.94 580.73 L205.08 578.07 L211.22 579.9 L217.36 578.97 L223.5 578.3 L229.65 576.3 L235.79 574.53 L241.93 567.67 L248.07 560 L254.21 553.83 L260.35 558.3 L266.49 565.43 L272.64 582.6 L278.78 589.7 L284.92 601 L291.06 603.17 L297.2 607.17 L303.34 606.6 L309.49 606.6 L315.63 607.03 L321.77 608.83 L327.91 610.87 L334.05 611.9 L340.19 610.5 L346.33 607.87 L352.48 603.2 L358.62 598.13 L364.76 593.37 L370.9 596.47 L377.04 604.27 L383.18 596.2 L389.32 573.5 L395.47 546.87 L401.61 534 L407.75 533.47 L413.89 537.67 L420.03 546.67 L426.17 555.53 L432.31 553.37 L438.46 544.63 L444.6 537.37 L450.74 545.07 L456.88 555.53 L463.02 560.1 L469.16 559.4 L475.31 562.6 L481.45 555.63 L487.59 544.33 L493.73 534.67 L499.87 532.67 L506.01 532.27 L512.15 530.13 L518.3 533.97 L524.44 535.47 L530.58 535.47 L536.72 531.87 L542.86 530.77 L549 528.9 L555.14 532.8 L561.29 533.37 L567.43 532.67 L573.57 541.27 L579.71 547.7 L585.85 553.77 L591.99 547.33 L598.14 556.3 L604.28 568.37 L610.42 585 L616.56 595.77 L622.7 602.73 L628.84 608.27 L634.98 603.83 L641.13 602.77 L647.27 602.6 L653.41 607.97 L659.55 602.87 L665.69 590.77 L671.83 573.47 L677.97 555.07 L684.12 548.63 L690.26 555.9 L696.4 570.7 L702.54 579.83 L708.68 585.03 L714.82 591.33 L720.97 599.4 L727.11 598.2 L733.25 602.5 L739.39 600.6 L745.53 601.27 L751.67 585.97 L757.81 567.87 L763.96 555.77 L770.1 553.33 L776.24 554.27 L782.38 549.6 L788.52 555.23 L794.66 557.63 L800.8 551.57 L806.95 543.27 L813.09 545.7 L819.23 546.1 L825.37 539.77 L831.51 527.67 L837.65 528.9 L843.8 530.4" fill="none" stroke="#f57f2a" stroke-width="1.3" stroke-linejoin="round" stroke-linecap="round" />
<rect x="4" y="52" width="147" height="24" fill="#fff" fill-opacity="0.52"/>
<rect x="204" y="52" width="290" height="22" fill="#fff" fill-opacity="0.52"/>
<rect x="4" y="76" width="146" height="30.8" fill="#fff" fill-opacity="0.52"/>
<rect x="4" y="106.8" width="75.5" height="24.5" fill="#fff" fill-opacity="0.52"/>
<rect x="4" y="376" width="142" height="21" fill="#fff" fill-opacity="0.52"/>
<rect x="4" y="527" width="122" height="22" fill="#fff" fill-opacity="0.52"/>
<text x="10.3" y="68.3" font-size="14.4" fill="#42454f" textLength="126" lengthAdjust="spacingAndGlyphs" >KMI · TradingView</text>
<path d="M161.6 53 H172.8 V71.2 H161.6 A9.1 9.1 0 0 1 161.6 53Z" fill="#fff1e0"/>
<path d="M172.8 53 H184.1 A9.1 9.1 0 0 1 184.1 71.2 H172.8Z" fill="#f8b4cb"/>
<g fill="#ff9100" stroke="#ff9100" stroke-linecap="round"><path d="M159.3 64.6 A3.7 3.7 0 0 1 166.7 64.6 Z" stroke="none"/><path d="M163 57.3V58.6 M158.3 59.3L159.3 60.3 M167.7 59.3L166.7 60.3 M156.6 62.4H157.6 M168.4 62.4H169.4" stroke-width="1.1" fill="none"/></g>
<path d="M177.6 61.2 Q179.6 59.2 181.6 61 T185.6 60.8 M177.6 65 Q179.6 63 181.6 64.8 T185.6 64.6" stroke="#c2185b" stroke-width="1.6" fill="none" stroke-linecap="round"/>
<text x="209.6" y="68.3" font-size="13" fill="#5d606b" textLength="8.4" lengthAdjust="spacingAndGlyphs" >O</text>
<text x="220" y="68.3" font-size="13" fill="#3d7a55" textLength="32" lengthAdjust="spacingAndGlyphs" >19.44</text>
<text x="258.8" y="68.3" font-size="13" fill="#5d606b" textLength="7.4" lengthAdjust="spacingAndGlyphs" >H</text>
<text x="268.5" y="68.3" font-size="13" fill="#3d7a55" textLength="32" lengthAdjust="spacingAndGlyphs" >19.97</text>
<text x="308.2" y="68.3" font-size="13" fill="#5d606b" textLength="5.2" lengthAdjust="spacingAndGlyphs" >L</text>
<text x="315.6" y="68.3" font-size="13" fill="#3d7a55" textLength="31.6" lengthAdjust="spacingAndGlyphs" >19.35</text>
<text x="353.8" y="68.3" font-size="13" fill="#5d606b" textLength="7.4" lengthAdjust="spacingAndGlyphs" >C</text>
<text x="363.2" y="68.3" font-size="13" fill="#3d7a55" textLength="31.5" lengthAdjust="spacingAndGlyphs" >19.77</text>
<text x="402" y="68.3" font-size="13" fill="#3d7a55" textLength="32" lengthAdjust="spacingAndGlyphs" >+0.40</text>
<text x="439.6" y="68.3" font-size="13" fill="#3d7a55" textLength="49.2" lengthAdjust="spacingAndGlyphs" >(+2.07%)</text>
<rect x="10" y="78.6" width="48" height="24" rx="3.5" fill="#fff" stroke="#f7525f" stroke-width="1.1"/>
<text x="34" y="95.6" font-size="12.6" fill="#f23645" textLength="32" lengthAdjust="spacingAndGlyphs" text-anchor="middle" >19.75</text>
<text x="66.5" y="95.6" font-size="12.6" fill="#5d606b" textLength="21.5" lengthAdjust="spacingAndGlyphs" >0.22</text>
<rect x="97.2" y="78.6" width="48.4" height="24" rx="3.5" fill="#fff" stroke="#5b7ffb" stroke-width="1.3"/>
<text x="121.4" y="95.6" font-size="12.6" fill="#2962ff" textLength="32" lengthAdjust="spacingAndGlyphs" text-anchor="middle" >19.97</text>
<text x="10.5" y="124.3" font-size="12.4" fill="#5d606b" textLength="23.5" lengthAdjust="spacingAndGlyphs" >EMA</text>
<text x="43.7" y="124.3" font-size="12.4" fill="#2196f3" textLength="30.5" lengthAdjust="spacingAndGlyphs" >17.72</text>
<text x="10.3" y="391.3" font-size="12.5" fill="#555862" textLength="32.8" lengthAdjust="spacingAndGlyphs" >MACD</text>
<text x="51.7" y="391.3" font-size="12.5" fill="#26a69a" textLength="25.4" lengthAdjust="spacingAndGlyphs" >0.26</text>
<text x="83.7" y="391.3" font-size="12.5" fill="#2196f3" textLength="25.5" lengthAdjust="spacingAndGlyphs" >0.70</text>
<text x="115.8" y="391.3" font-size="12.5" fill="#ff6d00" textLength="25.5" lengthAdjust="spacingAndGlyphs" >0.44</text>
<text x="10.3" y="542.8" font-size="12.6" fill="#555862" textLength="32" lengthAdjust="spacingAndGlyphs" >Stoch</text>
<text x="51.3" y="542.8" font-size="12.6" fill="#2962ff" textLength="32" lengthAdjust="spacingAndGlyphs" >94.96</text>
<text x="90.3" y="542.8" font-size="12.6" fill="#ff6d00" textLength="32" lengthAdjust="spacingAndGlyphs" >95.29</text>
<circle cx="25" cy="600.5" r="17.3" fill="#000" fill-opacity="0.06"/>
<circle cx="25" cy="600" r="16.6" fill="#fff" stroke="#e6e6ea" stroke-width="0.7"/>
<path d="M14.2 594.8 H23.7 V605.2 H19.2 V599.3 H14.2Z M31.2 594.8 H36.2 L31.6 605.2 H26.6Z" fill="#131722"/><circle cx="27.2" cy="597.1" r="2.3" fill="#131722"/>
<rect x="1144" y="46" width="54.2" height="575" fill="#fff"/>
<rect x="1142.6" y="46" width="1.5" height="575" fill="#6a6a6a"/>
<text x="1153.4" y="79.3" font-size="11.3" fill="#5a5d68" textLength="27.9" lengthAdjust="spacingAndGlyphs" >22.00</text>
<text x="1153.4" y="123.3" font-size="11.3" fill="#5a5d68" textLength="27.9" lengthAdjust="spacingAndGlyphs" >20.00</text>
<text x="1153.4" y="167.3" font-size="11.3" fill="#5a5d68" textLength="27.9" lengthAdjust="spacingAndGlyphs" >18.00</text>
<text x="1153.4" y="211.3" font-size="11.3" fill="#5a5d68" textLength="27.9" lengthAdjust="spacingAndGlyphs" >16.00</text>
<text x="1153.4" y="255.3" font-size="11.3" fill="#5a5d68" textLength="27.9" lengthAdjust="spacingAndGlyphs" >14.00</text>
<text x="1153.4" y="299.3" font-size="11.3" fill="#5a5d68" textLength="27.9" lengthAdjust="spacingAndGlyphs" >12.00</text>
<text x="1153.4" y="343.3" font-size="11.3" fill="#5a5d68" textLength="27.9" lengthAdjust="spacingAndGlyphs" >10.00</text>
<text x="1153.6" y="434.8" font-size="11.3" fill="#5a5d68" textLength="21.3" lengthAdjust="spacingAndGlyphs" >0.00</text>
<text x="1152.6" y="483.2" font-size="11.3" fill="#5a5d68" textLength="28.6" lengthAdjust="spacingAndGlyphs" >−1.00</text>
<text x="1153.4" y="548.2" font-size="11.3" fill="#5a5d68" textLength="27.9" lengthAdjust="spacingAndGlyphs" >80.00</text>
<text x="1153.4" y="584.1" font-size="11.3" fill="#5a5d68" textLength="27.9" lengthAdjust="spacingAndGlyphs" >40.00</text>
<text x="1159.6" y="620.2" font-size="11.3" fill="#5a5d68" textLength="21.3" lengthAdjust="spacingAndGlyphs" >0.00</text>
<rect x="0" y="369" width="1200" height="1.3" fill="#dfe2ea"/>
<rect x="0" y="520" width="1200" height="1.3" fill="#dfe2ea"/>
<rect x="1142.5" y="369" width="1.5" height="1.3" fill="#7b7b7b"/><rect x="1142.5" y="520" width="1.5" height="1.3" fill="#7b7b7b"/>
<rect x="1150" y="46" width="41" height="27.2" fill="#fff"/>
<rect x="1152.4" y="46.5" width="36" height="25.2" rx="3" fill="#fff" stroke="#e3e5ec" stroke-width="1"/>
<text x="1157" y="66.5" font-size="11.6" fill="#4a4d58" textLength="19.7" lengthAdjust="spacingAndGlyphs" >USD</text>
<path d="M1179.8 61.2 L1182.5 63.6 L1185.2 61.2" stroke="#4a4d58" stroke-width="1.2" fill="none"/>
<rect x="1113.6" y="116.2" width="28.4" height="15.2" rx="1.5" fill="#6ba67e"/>
<text x="1127.8" y="128" font-size="11.3" fill="#fff" textLength="17.5" lengthAdjust="spacingAndGlyphs" font-weight="bold" text-anchor="middle" >KMI</text>
<path d="M1144 116.2 H1185 a2 2 0 0 1 2 2 V129.4 a2 2 0 0 1 -2 2 H1144Z" fill="#6ba67e"/>
<text x="1153.4" y="128" font-size="11.3" fill="#e4f0e8" textLength="27.6" lengthAdjust="spacingAndGlyphs" >1d 8h</text>
<path d="M1144 162.2 H1185.4 a2 2 0 0 1 2 2 V175.4 a2 2 0 0 1 -2 2 H1144Z" fill="#2196f3"/>
<text x="1153.4" y="174" font-size="11.3" fill="#fff" textLength="27.9" lengthAdjust="spacingAndGlyphs" font-weight="bold" >17.72</text>
<path d="M1144 379.8 H1179 a2 2 0 0 1 2 2 V393.2 a2 2 0 0 1 -2 2 H1144Z" fill="#2196f3"/>
<text x="1153.4" y="391.6" font-size="11.3" fill="#fff" textLength="21.5" lengthAdjust="spacingAndGlyphs" font-weight="bold" >0.70</text>
<path d="M1144 395.6 H1179 a2 2 0 0 1 2 2 V409.0 a2 2 0 0 1 -2 2 H1144Z" fill="#ff6d00"/>
<text x="1153.4" y="407.4" font-size="11.3" fill="#fff" textLength="21.5" lengthAdjust="spacingAndGlyphs" font-weight="bold" >0.44</text>
<path d="M1144 411.2 H1179 a2 2 0 0 1 2 2 V424.59999999999997 a2 2 0 0 1 -2 2 H1144Z" fill="#26a69a"/>
<text x="1153.4" y="423" font-size="11.3" fill="#fff" textLength="21.5" lengthAdjust="spacingAndGlyphs" font-weight="bold" >0.26</text>
<path d="M1144 521.3 H1185 a2 2 0 0 1 2 2 V536 a2 2 0 0 1 -2 2 H1144Z" fill="#ff6d00"/>
<path d="M1144 522.6 H1185 a2 2 0 0 1 2 2 V536.4 a2 2 0 0 1 -2 2 H1144Z" fill="#2962ff"/>
<text x="1153.4" y="535" font-size="11.3" fill="#fff" textLength="27.9" lengthAdjust="spacingAndGlyphs" font-weight="bold" >94.96</text>
<circle cx="18.6" cy="21.9" r="9.6" fill="#e8392b"/>
<path d="M20.6 15.6 L15.6 22.6 H18.2 L16.4 28.3 L21.6 20.9 H18.9Z" fill="#fff"/>
<text x="34.5" y="27" font-size="14.5" fill="#2962ff" textLength="22.6" lengthAdjust="spacingAndGlyphs" font-weight="bold" >KMI</text>
<circle cx="121.9" cy="21.9" r="9.6" fill="none" stroke="#131722" stroke-width="1.3"/><path d="M117.3 21.9H126.5 M121.9 17.3V26.5" stroke="#131722" stroke-width="1.3"/>
<rect x="146.0" y="10.6" width="1" height="23" fill="#e3e5ec"/>
<rect x="193.0" y="10.6" width="1" height="23" fill="#e3e5ec"/>
<rect x="241.6" y="10.6" width="1" height="23" fill="#e3e5ec"/>
<rect x="398.8" y="10.6" width="1" height="23" fill="#e3e5ec"/>
<text x="164.7" y="26.4" font-size="14" fill="#131722" textLength="12.2" lengthAdjust="spacingAndGlyphs" >W</text>
<g stroke="#131722" stroke-width="1.3" fill="none"><rect x="212.3" y="14.8" width="4.3" height="13.9"/><path d="M214.45 11.5V14.8 M214.45 28.7V31.5"/><rect x="220.7" y="17.6" width="4.4" height="8"/><path d="M222.9 14.8V17.6 M222.9 25.6V28.5"/></g>
<g stroke="#131722" stroke-width="1.3" fill="none" stroke-linejoin="round"><path d="M257.8 19.4 L262.9 14.1 L266.8 16.9 L275 12.4"/><path d="M258.2 30.3 V25.8 H262.4 V30.3 M262.4 25.8 V23.6 H266.6 V30.3 M266.6 23.6 V21.8 H270.8 V30.3 M270.8 21.8 V20.2 H274.8 V30.3 H258.2"/></g>
<text x="283.2" y="27" font-size="14.5" fill="#131722" textLength="62" lengthAdjust="spacingAndGlyphs" >Indicators</text>
<g stroke="#131722" stroke-width="1.3" fill="none"><rect x="367.5" y="14.2" width="6" height="6" rx="1.6"/><rect x="377.2" y="14.2" width="6" height="6" rx="1.6"/><rect x="367.5" y="23.4" width="6" height="6" rx="1.6"/><rect x="377.2" y="23.4" width="6" height="6" rx="1.6"/></g>
<g stroke="#131722" stroke-width="1.3" fill="none" stroke-linecap="round"><path d="M425.5 29.6 A8.4 8.4 0 1 1 431.9 22.8"/><path d="M415 15.2 A3.6 3.6 0 0 1 420.4 12.4 M428 12.4 A3.6 3.6 0 0 1 433.4 15.6"/><path d="M424 17.5 V22 H420.4"/><path d="M425.5 28.9 H433.6 M429.5 24.9 V33"/></g>
<text x="440.3" y="27" font-size="14.5" fill="#131722" textLength="30.8" lengthAdjust="spacingAndGlyphs" >Alert</text>
<g stroke="#131722" stroke-width="1.2" fill="none" stroke-linejoin="round"><path d="M501.6 16.8 L494.6 22.4 L501.6 28.2Z"/><path d="M509.6 16.8 L502.8 22.4 L509.6 28.2Z"/></g>
<text x="518.3" y="27" font-size="14.5" fill="#131722" textLength="41.5" lengthAdjust="spacingAndGlyphs" >Replay</text>
<path d="M1074.6 16.4 L1069.6 20.5 L1074.6 24.6 M1069.6 20.5 H1076.5 Q1082 20.8 1082 27.5" stroke="#131722" stroke-width="1.3" fill="none"/>
<path d="M1116.4 16.4 L1121.4 20.5 L1116.4 24.6 M1121.4 20.5 H1114.5 Q1109 20.8 1109 27.5" stroke="#b8bbc4" stroke-width="1.3" fill="none"/>
<rect x="1138.5" y="11" width="1" height="17" fill="#e3e5ec"/>
<path d="M1155 28 V16.8 a3 3 0 0 1 3 -3 H1170.2 a3 3 0 0 1 3 3 V28" stroke="#131722" stroke-width="1.4" fill="none"/>
<path d="M1190.2 21.7 L1193 19.6 M1195 18.1 L1198.4 15.6 M1190 24.6 L1191.6 27.2" stroke="#131722" stroke-width="1.4" fill="none"/>
<rect x="812.6" y="28.1" width="382.4" height="24.8" rx="3" fill="#fff" stroke="#111" stroke-width="2"/>
<text x="817.6" y="46.6" font-size="18.4" fill="#000" textLength="371.6" lengthAdjust="spacingAndGlyphs" >Moving up on earnings and sell-side support</text>
<path d="M989.6 53.5 L944 95" stroke="#000" stroke-width="2" fill="none"/>
</svg></body></html>
